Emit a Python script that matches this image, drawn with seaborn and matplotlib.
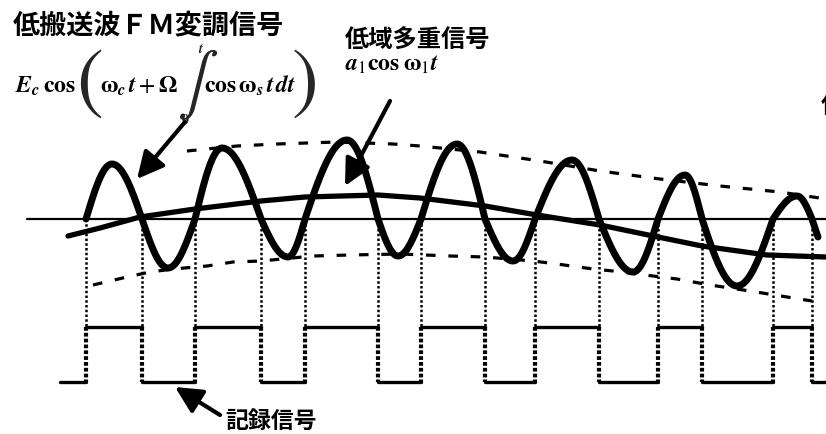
import numpy as np
import pandas as pd
import matplotlib
matplotlib.use("Agg")
import matplotlib.pyplot as plt
import seaborn as sns

sns.set_style("white")
plt.rcParams["font.family"] = ["Noto Sans CJK JP", "DejaVu Sans"]
plt.rcParams["mathtext.fontset"] = "stix"

# Reference levels (drawing units: x to the right, y downward)
baseline_y = 220
baseline_x = [27, 826]
rec_high_y = 328
rec_low_y = 383
rec_x_range = [60, 826]

# FM carrier: zero crossings and the extremum of every half cycle between them
fm_cross_x = [86, 142, 195, 261, 305, 378, 421, 485, 535, 599, 658, 702, 773, 812]
fm_ext_x = [112, 168, 222, 288, 347, 398, 457, 513, 572, 633, 685, 737, 797]
fm_ext_y = [165, 269, 149, 258, 141, 257, 145, 262, 161, 273, 176, 287, 197]
fm_tail = (818, 238)

# Low-band multiplexed signal
low_x = [68, 100, 140, 195, 261, 305, 378, 420, 485, 537, 600, 658, 702, 767, 826]
low_y = [237, 229, 218, 210, 202, 198, 196, 199, 207, 216, 226, 238, 247, 256, 258]

# Upper and lower envelopes
env_top_x = [187, 237, 277, 337, 393, 420, 480, 540, 600, 660, 720, 780, 826]
env_top_y = [152, 147, 145, 143, 145, 147, 153, 162, 172, 180, 187, 193, 200]
env_bot_x = [93, 127, 150, 173, 207, 233, 261, 313, 350, 400, 450, 485, 533,
             557, 593, 613, 653, 677, 710, 750, 787, 812]
env_bot_y = [286, 278, 273, 270, 267, 263, 262, 257, 256, 255, 257, 258, 262,
             265, 270, 272, 277, 280, 286, 292, 298, 302]

fig = plt.figure(figsize=(8.26, 4.35), dpi=100)
ax = fig.add_axes([0, 0, 1, 1])
ax.set_xlim(0, 826)
ax.set_ylim(435, 0)
ax.axis("off")

# FM waveform built half cycle by half cycle
xs, ys = [], []
t = np.linspace(0, 1, 40)
for i in range(len(fm_ext_x)):
    x0, x1 = fm_cross_x[i], fm_cross_x[i + 1]
    px, py = fm_ext_x[i], fm_ext_y[i]
    amp = py - baseline_y
    xs += list(x0 + (px - x0) * t) + list(px + (x1 - px) * t[1:])
    ys += list(baseline_y + amp * np.sin(np.pi / 2 * t)) + \
          list(baseline_y + amp * np.cos(np.pi / 2 * t[1:]))
xs.append(fm_tail[0])
ys.append(fm_tail[1])
fm_df = pd.DataFrame({"x": xs, "y": ys})

# Recorded (limited) signal: high while the FM wave is above the baseline
edges = [rec_x_range[0]] + fm_cross_x + [rec_x_range[1]]
rows = []
for k in range(len(edges) - 1):
    lvl = rec_high_y if k % 2 == 1 else rec_low_y
    rows.append({"x": edges[k], "y": lvl, "seg": k})
    rows.append({"x": edges[k + 1], "y": lvl, "seg": k})
rec_df = pd.DataFrame(rows)

# dotted projections from the crossings down to the recorded signal
ax.vlines(fm_cross_x, baseline_y, rec_high_y, colors="k",
          linestyles=[(0, (1, 0.9))], lw=1.8, zorder=1)
ax.vlines(fm_cross_x, rec_high_y, rec_low_y, colors="k",
          linestyles=[(0, (0.9, 0.5))], lw=3.0, zorder=1)

sns.lineplot(data=rec_df, x="x", y="y", units="seg", estimator=None, sort=False,
             color="k", lw=2.4, ax=ax, zorder=2)

sns.lineplot(x=baseline_x, y=[baseline_y, baseline_y], color="k", lw=1.6,
             ax=ax, zorder=2)

for ex, ey in ((env_top_x, env_top_y), (env_bot_x, env_bot_y)):
    sns.lineplot(x=ex, y=ey, color="k", lw=2.3, linestyle=(0, (3, 4)),
                 sort=False, estimator=None, ax=ax, zorder=3)

sns.lineplot(x=low_x, y=low_y, color="k", lw=3.8, sort=False, estimator=None,
             ax=ax, zorder=4)

sns.lineplot(data=fm_df, x="x", y="y", color="k", lw=5.0, sort=False,
             estimator=None, ax=ax, zorder=5,
             solid_capstyle="round", solid_joinstyle="round")

ax.set_xlabel("")
ax.set_ylabel("")

# Labels
cjk = dict(family=["Noto Sans CJK JP", "DejaVu Sans"], weight="bold", color="k")
ax.text(13, 25, "低搬送波ＦＭ変調信号", fontsize=19.5, ha="left", va="center", **cjk)
ax.text(345, 41, "低域多重信号", fontsize=17.5, ha="left", va="center", **cjk)
ax.text(225, 421, "記録信号", fontsize=16.5, ha="left", va="center", **cjk)
ax.text(821, 106, "信", fontsize=17.5, ha="left", va="center", **cjk)

mt = dict(color="k", ha="left", va="baseline")
ax.text(15, 93, r"$\mathbfit{E}_{\mathbfit{c}}\,\mathbf{cos}$", fontsize=17, **mt)
ax.text(89, 85, "(", fontsize=58, family="STIXGeneral", ha="center", va="center")
ax.text(100, 93, r"$\mathbf{\omega}_{\mathbfit{c}}\,\mathbfit{t}+\mathbf{\Omega}$",
        fontsize=17, **mt)
ax.text(192, 84, "∫", fontsize=44, family="STIXGeneral",
        ha="center", va="center")
ax.text(201, 49, r"$\mathbfit{t}$", fontsize=10, ha="center", va="center")
ax.text(185, 120, r"$\mathbf{0}$", fontsize=10, ha="center", va="center")
ax.text(204, 93, r"$\mathbf{cos}\,\mathbf{\omega}_{\mathbfit{s}}\,\mathbfit{t}\,\mathbfit{dt}$",
        fontsize=17, **mt)
ax.text(305, 85, ")", fontsize=58, family="STIXGeneral", ha="center", va="center")

ax.text(345, 71, r"$\mathbfit{a}_{1}\mathbf{cos}\;\mathbf{\omega}_{1}\mathbfit{t}$",
        fontsize=17, **mt)

# Pointer arrows
arrow = dict(arrowstyle="-|>,head_length=0.9,head_width=0.45", color="k",
             lw=3, mutation_scale=18, shrinkA=0, shrinkB=0)
ax.annotate("", xy=(137, 180), xytext=(185, 123), arrowprops=arrow)
ax.annotate("", xy=(345, 187), xytext=(390, 102), arrowprops=arrow)
ax.annotate("", xy=(175, 388), xytext=(220, 416), arrowprops=arrow)

fig.savefig("out.png", dpi=100, facecolor="white")
